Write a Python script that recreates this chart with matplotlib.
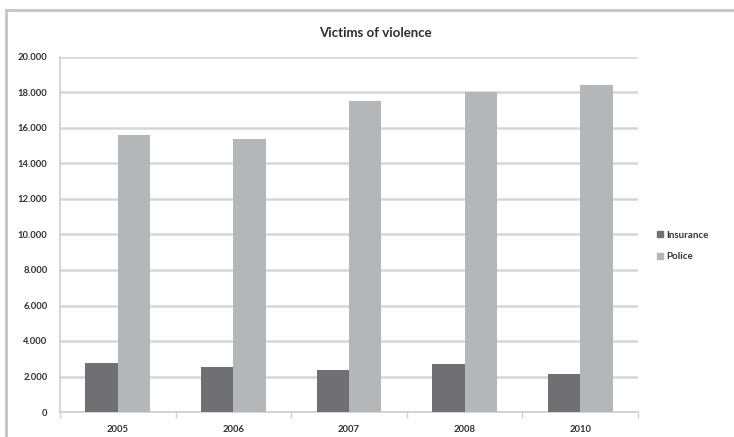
import matplotlib
matplotlib.use("Agg")
import matplotlib.pyplot as plt
from matplotlib.lines import Line2D
import numpy as np

years = ["2005", "2006", "2007", "2008", "2010"]
insurance = [2750, 2550, 2350, 2700, 2150]
police = [15600, 15400, 17500, 18000, 18450]
y_ticks = [0, 2000, 4000, 6000, 8000, 10000, 12000, 14000, 16000, 18000, 20000]
y_labels = ["0", "2.000", "4.000", "6.000", "8.000", "10.000", "12.000",
            "14.000", "16.000", "18.000", "20.000"]

plt.rcParams["font.family"] = ["Lato", "DejaVu Sans"]

W, H = 734, 437
fig = plt.figure(figsize=(W / 100, H / 100), dpi=100)
fig.patch.set_facecolor("white")

# outer chart frame: top and left edges
fig.add_artist(Line2D([6 / W, 1.0], [1 - 10 / H, 1 - 10 / H], transform=fig.transFigure,
                      color="#c8c8c8", linewidth=2.2))
fig.add_artist(Line2D([6 / W, 6 / W], [0.0, 1 - 10 / H], transform=fig.transFigure,
                      color="#c8c8c8", linewidth=2.2))

ax = fig.add_axes([60 / W, 1 - 412 / H, (638 - 60) / W, (412 - 57) / H])
x = np.arange(len(years))
bw = 0.28
ax.bar(x - bw / 2, insurance, bw, color="#707074", label="Insurance", zorder=3)
ax.bar(x + bw / 2, police, bw, color="#b5b6ba", label="Police", zorder=3)

ax.set_xlim(-0.5, len(years) - 0.5)
ax.set_ylim(0, 20000)
ax.set_yticks(y_ticks)
ax.set_yticklabels(y_labels)
ax.set_xticks(x)
ax.set_xticklabels(years)
ax.set_xticks(np.arange(len(years) + 1) - 0.5, minor=True)

ax.grid(axis="y", color="#d6d6d6", linewidth=1.8, zorder=0)
for side in ["top", "right"]:
    ax.spines[side].set_visible(False)
for side in ["left", "bottom"]:
    ax.spines[side].set_color("#cfcfcf")
    ax.spines[side].set_linewidth(1.2)

ax.tick_params(axis="y", length=0, pad=9, labelsize=6.8, labelcolor="#333333")
ax.tick_params(axis="x", which="major", length=0, pad=9, labelsize=6.8, labelcolor="#333333")
ax.tick_params(axis="x", which="minor", length=4, color="#cfcfcf", width=1)
for lab in ax.get_yticklabels() + ax.get_xticklabels():
    lab.set_fontweight("bold")

fig.text(375 / W, 1 - 33 / H, "Victims of violence", ha="center", va="center",
         fontsize=9.5, color="#2e2e2e", fontweight="bold")

handles = [Line2D([], [], marker="s", linestyle="none", markersize=4.5,
                  markerfacecolor="#707074", markeredgecolor="#707074"),
           Line2D([], [], marker="s", linestyle="none", markersize=4.5,
                  markerfacecolor="#b5b6ba", markeredgecolor="#b5b6ba")]
leg = fig.legend(handles, ["Insurance", "Police"], loc="center left",
                 bbox_to_anchor=(648 / W, 1 - 246 / H), frameon=False,
                 fontsize=7, handlelength=0.6, handletextpad=0.4, labelspacing=1.3,
                 labelcolor="#333333")
for t in leg.get_texts():
    t.set_fontweight("bold")

fig.savefig("out.png", dpi=100, facecolor="white")
